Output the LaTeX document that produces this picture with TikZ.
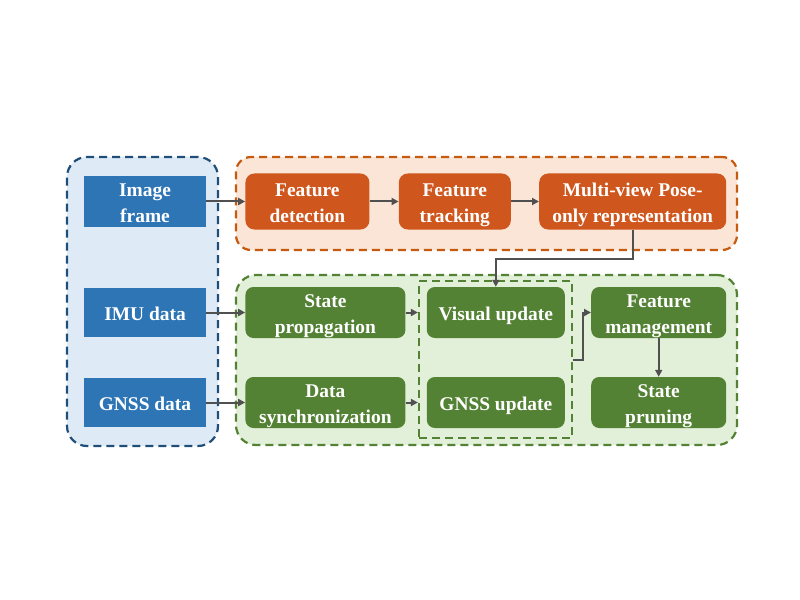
\documentclass[tikz,border=0pt]{standalone}
\usepackage{fontspec}
\setmainfont{Liberation Serif}
\usepackage{xcolor}
\usepackage{tikz}
\usetikzlibrary{shapes,arrows,arrows.meta,positioning,calc}

\definecolor{inblue}{HTML}{2E75B6}
\definecolor{inblueback}{HTML}{DEEBF7}
\definecolor{inblueline}{HTML}{1F4E79}
\definecolor{frontorange}{HTML}{CF561C}
\definecolor{frontback}{HTML}{FBE5D6}
\definecolor{frontline}{HTML}{C55A11}
\definecolor{backgreen}{HTML}{548235}
\definecolor{backback}{HTML}{E2F0D9}
\definecolor{arrowgray}{HTML}{505050}

\newcommand{\boxstrut}{\rule[-4.5bp]{0pt}{25bp}}

\begin{document}
\begin{tikzpicture}[
    x=1bp, y=-1bp,
    group/.style={rectangle, draw, dash pattern=on 8bp off 5bp, line width=2.2bp, rounded corners=20bp},
    boxtext/.style={text=white, font=\bfseries\fontsize{19.5}{24}\selectfont, align=center, inner sep=0pt},
    input/.style={rectangle, fill=inblue, boxtext, minimum width=122bp, minimum height=49bp},
    front/.style={rectangle, fill=frontorange, boxtext, rounded corners=9bp, minimum height=56bp},
    back/.style={rectangle, fill=backgreen, boxtext, rounded corners=8bp, minimum height=51bp},
    arrow/.style={-{Triangle[length=7bp,width=7bp]}, line width=2bp, draw=arrowgray}
]
    \useasboundingbox (0,0) rectangle (800,600);

    \node[group, fill=inblueback, draw=inblueline, minimum width=151bp, minimum height=289bp] (ingroup) at (142.5,301.5) {};
    \node[group, fill=frontback, draw=frontline, rounded corners=15bp, minimum width=501bp, minimum height=93bp] (frontgroup) at (486.5,203.5) {};
    \node[group, fill=backback, draw=backgreen, minimum width=501bp, minimum height=170bp] (backgroup) at (486.5,360) {};

    \node[input] (img) at (145,201.5) {\boxstrut Image\\frame\boxstrut};
    \node[input] (imu) at (145,312.5) {\boxstrut IMU data};
    \node[input] (gnssd) at (145,402.5) {\boxstrut GNSS data};

    \node[front, minimum width=124bp, right=39bp of img] (det) {\boxstrut Feature\\detection\boxstrut};
    \node[front, minimum width=112bp, right=29bp of det] (trk) {\boxstrut Feature\\tracking\boxstrut};
    \node[front, minimum width=187bp, right=28bp of trk] (mv) {\boxstrut Multi-view Pose-\\only representation\boxstrut};

    \node[back, minimum width=160bp, right=39bp of imu] (prop) {\boxstrut State\\propagation\boxstrut};
    \node[back, minimum width=138bp, right=21bp of prop] (vis) {\boxstrut Visual update};
    \node[back, minimum width=135bp, right=26bp of vis] (fm) {\boxstrut Feature\\management\boxstrut};
    \node[back, minimum width=160bp, right=39bp of gnssd] (sync) {\boxstrut Data\\synchronization\boxstrut};
    \node[back, minimum width=138bp, right=21bp of sync] (gup) {\boxstrut GNSS update};
    \node[back, minimum width=135bp, right=26bp of gup] (sp) {\boxstrut State\\pruning\boxstrut};

    \node[rectangle, draw=backgreen, dash pattern=on 8bp off 5bp, line width=2.2bp, minimum width=153bp, minimum height=157bp] (upd) at (495.5,359.5) {};

    \draw[arrow] (img) -- (det);
    \draw[arrow] (det) -- (trk);
    \draw[arrow] (trk) -- (mv);
    \draw[arrow] (mv.south) -- ++(0,29) -| (vis.north);
    \draw[arrow] (imu) -- (prop);
    \draw[arrow] (gnssd) -- (sync);
    \draw[arrow] (prop.east) -- (prop.east -| upd.west);
    \draw[arrow] (sync.east) -- (sync.east -| upd.west);
    \draw[arrow] (upd.east) -- ++(10,0) |- (fm.west);
    \draw[arrow] (fm) -- (sp);
\end{tikzpicture}
\end{document}
